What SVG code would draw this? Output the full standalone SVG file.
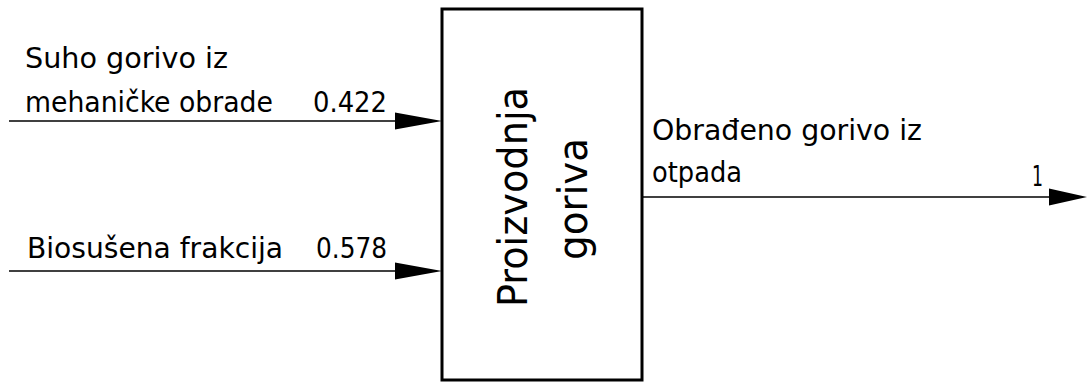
<svg xmlns="http://www.w3.org/2000/svg" width="1087" height="383" viewBox="0 0 1087 383">
<style>
text{font-family:"DejaVu Sans Condensed","DejaVu Sans","Liberation Sans",sans-serif;font-stretch:condensed;fill:#000}
.t{font-size:28px}
.b{font-size:40px}
.ln{stroke:#000;stroke-width:1.5;fill:none}
.ah{fill:#000}
</style>
<rect width="1087" height="383" fill="#fff"/>
<g id="connectors">
<line class="ln" x1="9" y1="121" x2="400" y2="121"/>
<polygon class="ah" points="395,112.5 442,121 395,129.5"/>
<line class="ln" x1="9" y1="271" x2="400" y2="271"/>
<polygon class="ah" points="395,262.5 442,271 395,279.5"/>
<line class="ln" x1="642" y1="197" x2="1055" y2="197"/>
<polygon class="ah" points="1049,188.5 1087,197 1049,205.5"/>
</g>
<g id="node-proizvodnja">
<rect x="442" y="9" width="200" height="371" fill="#fff" stroke="#000" stroke-width="3"/>
<text class="b" transform="translate(527,197) rotate(-90)" text-anchor="middle" textLength="220" lengthAdjust="spacingAndGlyphs">Proizvodnja</text>
<text class="b" transform="translate(587,199) rotate(-90)" text-anchor="middle" textLength="122" lengthAdjust="spacingAndGlyphs">goriva</text>
</g>
<g id="label-input1">
<text class="t" x="25" y="68" textLength="203" lengthAdjust="spacingAndGlyphs">Suho gorivo iz</text>
<text class="t" x="25" y="112" textLength="248" lengthAdjust="spacingAndGlyphs">mehaničke obrade</text>
<text class="t" x="313" y="112" textLength="74" lengthAdjust="spacingAndGlyphs">0.422</text>
</g>
<g id="label-input2">
<text class="t" x="27" y="258" textLength="256" lengthAdjust="spacingAndGlyphs">Biosušena frakcija</text>
<text class="t" x="316" y="258" textLength="71" lengthAdjust="spacingAndGlyphs">0.578</text>
</g>
<g id="label-output">
<text class="t" x="652" y="140" textLength="270" lengthAdjust="spacingAndGlyphs">Obrađeno gorivo iz</text>
<text class="t" x="652" y="182" textLength="90" lengthAdjust="spacingAndGlyphs">otpada</text>
<text class="t" x="1032" y="186" textLength="11" lengthAdjust="spacingAndGlyphs">1</text>
</g>
</svg>
